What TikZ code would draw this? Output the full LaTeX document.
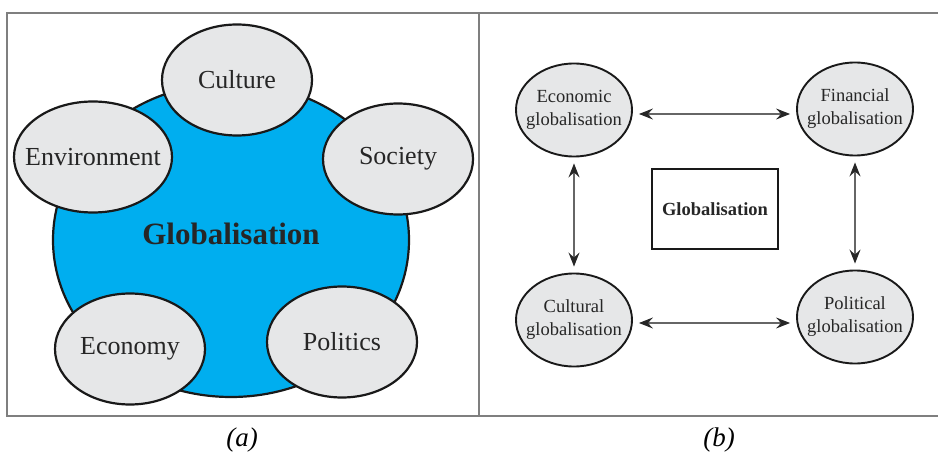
\documentclass[tikz,border=0pt]{standalone}
\usepackage{fontspec}
\setmainfont{Liberation Serif}
\usetikzlibrary{shapes.geometric,arrows.meta}
\definecolor{globblue}{HTML}{00AEEF}
\definecolor{ovalgray}{HTML}{E6E7E8}
\definecolor{framegray}{HTML}{7F7F7F}
\begin{document}
\begin{tikzpicture}[
        x=1pt, y=-1pt,
        bigtext/.style={font=\fontsize{26}{28}\selectfont, text=black!85},
        smalltext/.style={align=center, font=\fontsize{18.5}{23}\selectfont, text=black!85},
        bigoval/.style={ellipse, draw=black!90, line width=2.2pt, fill=ovalgray,
            minimum width=150pt, minimum height=111pt, label={[bigtext]center:#1}},
        smalloval/.style={ellipse, draw=black!90, line width=1.9pt, fill=ovalgray,
            minimum width=116pt, minimum height=93pt, label={[smalltext]center:#1}},
        dblarrow/.style={{Stealth[length=14pt,width=11pt,inset=5pt,black!85]}-{Stealth[length=14pt,width=11pt,inset=5pt,black!85]},
            draw=black!60, line width=1.1pt, shorten <=6pt, shorten >=6pt},
    ]
    \useasboundingbox (0,0) rectangle (939,454);
    % frames
    \draw[framegray, line width=1.5pt] (7,13) rectangle (479,416);
    \draw[framegray, line width=1.5pt] (479,13) -- (938,13);
    \draw[framegray, line width=1.5pt] (479,416) -- (938,416);
    % (a)
    \node[ellipse, fill=globblue, draw=black!90, line width=2.2pt, minimum width=356pt, minimum height=314pt] (glob) at (231,240) {};
    \node[font=\bfseries\fontsize{31}{34}\selectfont, text=black!85] (globlabel) at (231,234) {Globalisation};
    \node[bigoval=Culture] (culture) at (237,80) {};
    \node[bigoval=Environment, minimum width=158pt] (environment) at (93,157) {};
    \node[bigoval=Society] (society) at (398,159) {};
    \node[bigoval=Economy] (economy) at (130,349) {};
    \node[bigoval=Politics] (politics) at (342,342) {};
    \node[font=\itshape\fontsize{27}{30}\selectfont] (capa) at (242,440) {(a)};
    % (b)
    \node[smalloval={Economic\\globalisation}] (econ) at (574,110) {};
    \node[smalloval={Financial\\globalisation}] (fin) at (855,109) {};
    \node[smalloval={Cultural\\globalisation}] (cult) at (574,320) {};
    \node[smalloval={Political\\globalisation}] (pol) at (855,317) {};
    \node[draw=black!90, line width=2pt, minimum width=126pt, minimum height=80pt,
        font=\bfseries\fontsize{18.5}{22}\selectfont, text=black!85] (core) at (715,209) {Globalisation};
    \draw[dblarrow] ([yshift=-4pt]econ.east) -- ([yshift=-4pt]econ.east -| fin.west);
    \draw[dblarrow] ([yshift=-3pt]cult.east) -- ([yshift=-3pt]cult.east -| pol.west);
    \draw[dblarrow] (econ.south) -- (cult.north);
    \draw[dblarrow] (fin.south) -- (pol.north);
    \node[font=\itshape\fontsize{27}{30}\selectfont] (capb) at (719,440) {(b)};
\end{tikzpicture}
\end{document}
